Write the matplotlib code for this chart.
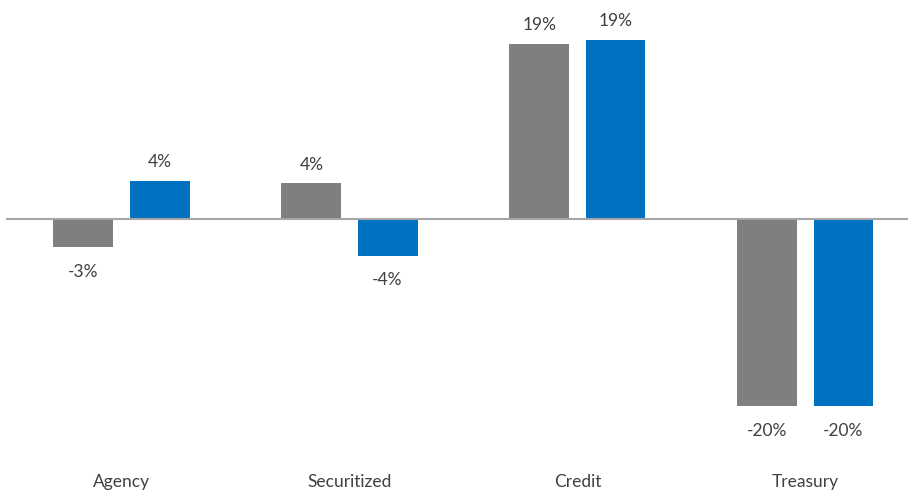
import matplotlib.pyplot as plt
import numpy as np

## categories and the two series (percent)
categories = ['Agency', 'Securitized', 'Credit', 'Treasury']
series_gray = [-3.0, 3.8, 18.6, -19.9]
series_blue = [4.1, -3.9, 19.1, -19.9]

gray = '#7F7F7F'
blue = '#0070C0'
txt = '#404040'

plt.rcParams['font.family'] = ['Lato', 'DejaVu Sans']

fig = plt.figure(figsize=(9.08, 4.9), dpi=100)
ax = fig.add_axes([0, 0, 1, 1])

ind = np.arange(len(categories))
width = 0.263
off = 0.167

b1 = ax.bar(ind - off, series_gray, width, color=gray, zorder=2)
b2 = ax.bar(ind + off, series_blue, width, color=blue, zorder=2)

## zero line across the plot
ax.axhline(0, xmin=7/908, xmax=1, color='#A6A6A6', lw=1.5, zorder=3)

## value labels
for bars, vals in [(b1, series_gray), (b2, series_blue)]:
    for rect, v in zip(bars, vals):
        x = rect.get_x() + rect.get_width()/2
        if v >= 0:
            ax.text(x, v + 2.0, '%d%%' % round(v), ha='center', va='center',
                    fontsize=12.5, color=txt)
        else:
            ax.text(x, v - 2.6, '%d%%' % round(v), ha='center', va='center',
                    fontsize=12.5, color=txt)

## category labels along the bottom
for i, c in enumerate(categories):
    ax.text(i, -27.9, c, ha='center', va='center', fontsize=12.5, color=txt)

ax.set_xlim(-0.533, 3.45)
ax.set_ylim(-28.8, 23.3)
ax.axis('off')

plt.savefig('out.png', dpi=100)
